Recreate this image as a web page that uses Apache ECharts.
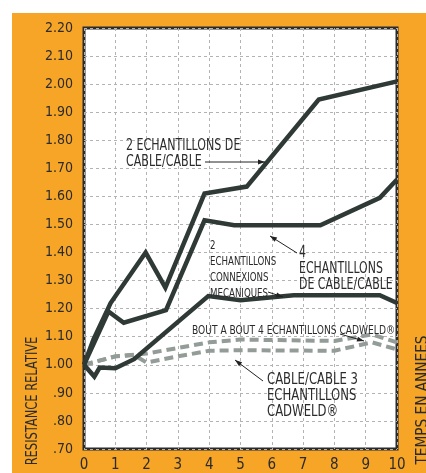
<!DOCTYPE html>
<html>
<head>
<meta charset="utf-8">
<script src="https://cdn.jsdelivr.net/npm/echarts@6/dist/echarts.min.js"></script>
<style>
  html, body { margin: 0; padding: 0; background: #fff; }
  #chart {
    position: absolute;
    left: 12px;
    top: 13px;
    width: 414px;
    height: 460px;
    background: #f6a526;
  }
</style>
</head>
<body>
<div id="chart"></div>
<script>
// values (x = years, y = relative resistance)
const cable2X = [0, 0.3, 0.85, 1.97, 2.6, 3.85, 5.2, 7.5, 10];
const cable2Y = [1.0, 1.09, 1.22, 1.40, 1.275, 1.61, 1.635, 1.945, 2.01];

const cable4X = [0, 0.78, 1.27, 2.62, 3.85, 4.8, 7.55, 9.45, 10];
const cable4Y = [1.0, 1.19, 1.15, 1.195, 1.515, 1.497, 1.497, 1.595, 1.66];

const mecaX = [0, 0.33, 0.5, 1.0, 1.6, 3.97, 5.0, 6.7, 9.45, 10];
const mecaY = [1.0, 0.958, 0.99, 0.988, 1.02, 1.245, 1.23, 1.248, 1.248, 1.22];

const boutX = [0, 1.0, 2.0, 3.0, 4.0, 5.0, 8.0, 9.2, 10];
const boutY = [1.0, 1.03, 1.04, 1.06, 1.08, 1.09, 1.085, 1.108, 1.08];

const cad3X = [0, 1.0, 1.6, 2.0, 3.0, 4.0, 5.0, 8.0, 9.2, 10];
const cad3Y = [1.0, 1.03, 1.035, 1.008, 1.03, 1.05, 1.052, 1.05, 1.08, 1.055];

const yTickLabels = ['.70', '.80', '.90', '1.00', '1.10', '1.20', '1.30', '1.40', '1.50',
  '1.60', '1.70', '1.80', '1.90', '2.00', '2.10', '2.20'];
const xTickLabels = ['0', '1', '2', '3', '4', '5', '6', '7', '8', '9', '10'];

const FONT = '"Liberation Sans Narrow", "DejaVu Sans Condensed", sans-serif';
const DARK = '#2f3a36';
const DASH = '#939c97';
const TEXT = '#2b2b2b';

function pairs(xs, ys) {
  return xs.map((x, i) => [x, ys[i]]);
}

function solid(name, xs, ys) {
  return {
    name: name, type: 'line', data: pairs(xs, ys), symbol: 'none',
    lineStyle: { color: DARK, width: 4.5, join: 'miter' }, z: 3
  };
}
function dashed(name, xs, ys) {
  return {
    name: name, type: 'line', data: pairs(xs, ys), symbol: 'none',
    lineStyle: { color: DASH, width: 4, type: [9, 5] }, z: 2
  };
}

// page coords -> div coords
const OX = 12, OY = 13;
function txt(text, px, py, size, sx, extra) {
  return Object.assign({
    type: 'text', x: px - OX, y: py - OY, z: 10, scaleX: sx,
    style: Object.assign({
      text: text, fontSize: size, fontFamily: FONT, fill: TEXT,
      verticalAlign: 'middle'
    }, (extra && extra.style) || {})
  }, extra && extra.el || {});
}
function leader(x1, y1, x2, y2, arrow) {
  const els = [{
    type: 'line', z: 10,
    shape: { x1: x1 - OX, y1: y1 - OY, x2: x2 - OX, y2: y2 - OY },
    style: { stroke: '#222', lineWidth: 1 }
  }];
  if (arrow) {
    const a = Math.atan2(y2 - y1, x2 - x1);
    const L = 7, W = 2.5;
    const bx = x2 - L * Math.cos(a), by = y2 - L * Math.sin(a);
    els.push({
      type: 'polygon', z: 10,
      shape: { points: [
        [x2 - OX, y2 - OY],
        [bx + W * Math.sin(a) - OX, by - W * Math.cos(a) - OY],
        [bx - W * Math.sin(a) - OX, by + W * Math.cos(a) - OY]
      ] },
      style: { fill: '#222' }
    });
  }
  return els;
}

const chart = echarts.init(document.getElementById('chart'));
chart.setOption({
  animation: false,
  grid: {
    left: 72, top: 15, right: 29, bottom: 16,
    show: true, backgroundColor: '#fff', borderColor: '#2b2b2b', borderWidth: 3
  },
  xAxis: {
    type: 'value', min: 0, max: 10, interval: 1,
    axisLine: { show: false }, axisTick: { show: false },
    axisLabel: {
      margin: 9, fontSize: 15, fontFamily: FONT, color: TEXT,
      formatter: v => xTickLabels[Math.round(v)]
    },
    splitLine: { lineStyle: { color: '#b3b3b3', width: 1, type: [3, 3] } }
  },
  yAxis: {
    type: 'value', min: 0.7, max: 2.2, interval: 0.1,
    axisLine: { show: false }, axisTick: { show: false },
    axisLabel: {
      margin: 11, fontSize: 14, fontFamily: FONT, color: TEXT,
      formatter: v => yTickLabels[Math.round((v - 0.7) * 10)]
    },
    splitLine: { lineStyle: { color: '#b3b3b3', width: 1, type: [3, 3] } }
  },
  series: [
    dashed('bout', boutX, boutY),
    dashed('cad3', cad3X, cad3Y),
    solid('meca', mecaX, mecaY),
    solid('cable4', cable4X, cable4Y),
    solid('cable2', cable2X, cable2Y)
  ],
  graphic: [].concat(
    [
      txt('RESISTANCE RELATIVE', 33, 401, 15, 0.85, { el: { rotation: Math.PI / 2 }, style: { align: 'center' } }),
      txt('TEMPS EN ANNEES', 423, 400, 16, 0.95, { el: { rotation: Math.PI / 2 }, style: { align: 'center' } }),
      txt('2 ECHANTILLONS DE\nCABLE/CABLE', 126, 154, 15, 0.82, { style: { lineHeight: 16 } }),
      txt('2\nECHANTILLONS\nCONNEXIONS\nMECANIQUES', 210, 270, 13, 0.74, { style: { lineHeight: 16 } }),
      txt('4\nECHANTILLONS\nDE CABLE/CABLE', 299, 269, 16, 0.76, { style: { lineHeight: 16 } }),
      txt('BOUT A BOUT 4 ECHANTILLONS CADWELD\u00ae', 192, 331, 13, 0.78, {}),
      txt('CABLE/CABLE 3\nECHANTILLONS\nCADWELD\u00ae', 267, 396, 16, 0.81, { style: { lineHeight: 16 } })
    ],
    leader(205, 162, 265, 162, true),
    leader(268, 292, 283, 297, true),
    leader(297, 253, 270, 236, true),
    leader(340, 334, 364, 341, true),
    leader(263, 381, 235, 360, true)
  )
});
</script>
</body>
</html>
